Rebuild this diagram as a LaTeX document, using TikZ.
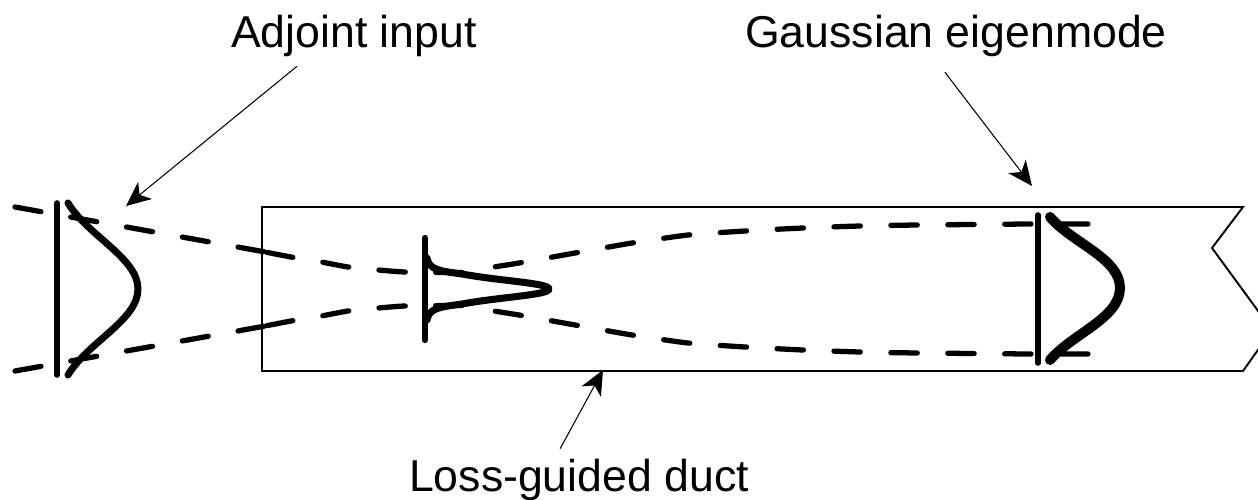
\documentclass[tikz,border=0pt]{standalone}
\usepackage{fontspec}
\setmainfont{Liberation Sans}
\usetikzlibrary{arrows.meta}

\begin{document}
\begin{tikzpicture}[x=0.02cm, y=-0.02cm,
	labeltext/.style={font=\fontsize{25.4}{30}\selectfont, text height=18.5pt, text depth=5.4pt, inner xsep=0pt},
	pointer/.style={line width=0.6pt, -{Stealth[length=14pt, width=12.5pt, inset=4pt]}},
	beamline/.style={line width=3pt, line cap=round},
	barline/.style={line width=3.2pt, line cap=round},
	profile/.style={line cap=round, line join=round}]
	\useasboundingbox (0,0) rectangle (1258,500);
	% duct with broken end
	\draw[line width=1.1pt] (262,207) -- (1243,207) -- (1212,248) -- (1272,330) -- (1243,371) -- (262,371) -- cycle;
	% beam edges, outside the duct then inside it
	\foreach \s in {1,-1} {
		\draw[beamline, dash pattern=on 15pt off 17.25pt] (15,289-82*\s) -- (271,289-36*\s);
		\draw[beamline, dash pattern=on 15pt off 17.3pt] plot[smooth, tension=0.35] coordinates {(462,289-16.5*\s) (405,289-17*\s) (373,289-19.5*\s) (348,289-22*\s) (316,289-28*\s) (291,289-32*\s) (260,289-38*\s)};
		\draw[beamline, dash pattern=on 15pt off 17.4pt] plot[smooth, tension=0.35] coordinates {(1088,289-65*\s) (1032,289-65*\s) (974,289-64.5*\s) (917,289-64*\s) (860,289-63*\s) (803,289-61*\s) (745,289-58*\s) (688,289-54*\s) (632,289-46*\s) (575,289-36*\s) (519,289-26*\s) (487,289-21*\s)};
	}
	% planes
	\draw[barline] (57,203) -- (57,375);
	\draw[barline, line width=3.6pt] (425,238) -- (425,340);
	\draw[barline] (1038,215) -- (1038,363);
	% field profiles
	\draw[profile, line width=4pt] (68,203) .. controls (88,236) and (138,258) .. (138,289) .. controls (138,320) and (88,342) .. (68,375);
	\draw[profile, line width=4pt] (427,258) .. controls (429,270) and (440,271) .. (462,274) .. controls (500,281) and (549,283) .. (549,289) .. controls (549,295) and (500,297) .. (462,304) .. controls (440,307) and (429,308) .. (427,320);
	\draw[profile, line width=5.7pt] (1050,217) .. controls (1072,243) and (1120,258) .. (1120,288) .. controls (1120,318) and (1072,334) .. (1050,360);
	% labels
	\node[labeltext, inner ysep=5.1pt] (adjlabel) at (354,36) {Adjoint input};
	\node[labeltext, inner ysep=8.5pt] (modelabel) at (956,36) {Gaussian eigenmode};
	\node[labeltext, inner ysep=5.7pt] (ductlabel) at (579,480) {Loss-guided duct};
	\coordinate (adjtip) at (126,206);
	\coordinate (modetip) at (1032,186);
	\coordinate (ducttip) at (603,370);
	\draw[pointer] (adjlabel.208) -- (adjtip);
	\draw[pointer] (modelabel.253) -- (modetip);
	\draw[pointer] (ductlabel.121.5) -- (ducttip);
\end{tikzpicture}
\end{document}
